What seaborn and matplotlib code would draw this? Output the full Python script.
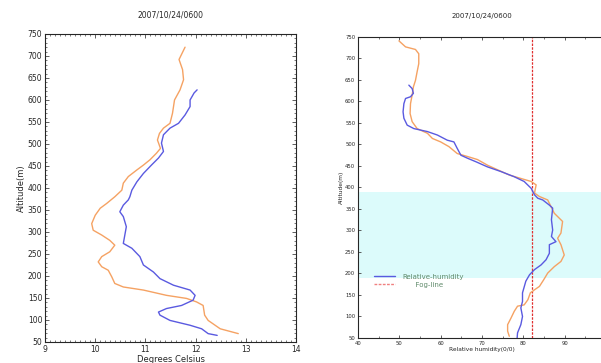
import numpy as np
import pandas as pd
import matplotlib
matplotlib.use("Agg")
import matplotlib.pyplot as plt
from matplotlib.ticker import MultipleLocator
from matplotlib.lines import Line2D
import seaborn as sns

# Perfil de temperatura (panel izquierdo)
temp_naranja = [11.79, 11.67, 11.74, 11.76, 11.69, 11.58, 11.54, 11.49, 11.36, 11.28, 11.24, 11.30,
                11.22, 11.09, 10.96, 10.83, 10.66, 10.56, 10.53, 10.39, 10.23, 10.10, 10.00, 9.93,
                9.96, 10.13, 10.29, 10.39, 10.29, 10.13, 10.06, 10.13, 10.26, 10.33, 10.39, 10.56,
                10.96, 11.42, 11.82, 12.02, 12.15, 12.18, 12.25, 12.49, 12.85]
alt_temp_naranja = [720, 692, 669, 646, 623, 600, 570, 547, 536, 524, 509, 490,
                    479, 464, 452, 441, 426, 411, 395, 380, 365, 354, 338, 319,
                    304, 293, 281, 270, 255, 244, 232, 221, 213, 198, 183, 175,
                    168, 156, 149, 141, 133, 111, 99, 80, 69]
temp_azul = [12.03, 11.97, 11.89, 11.89, 11.79, 11.66, 11.49, 11.36, 11.32, 11.36, 11.26, 11.12,
             10.96, 10.83, 10.73, 10.69, 10.66, 10.56, 10.49, 10.56, 10.62, 10.59, 10.56, 10.73,
             10.89, 10.96, 11.16, 11.29, 11.56, 11.89, 11.99, 11.95, 11.72, 11.42, 11.26, 11.29,
             11.49, 11.89, 12.12, 12.25, 12.43]
alt_temp_azul = [623, 616, 600, 585, 566, 547, 536, 521, 502, 483, 468, 452,
                 433, 414, 395, 380, 373, 361, 346, 335, 312, 293, 274, 263,
                 244, 225, 209, 194, 179, 168, 156, 145, 133, 126, 118, 111,
                 99, 88, 80, 69, 65]

# Perfil de humedad relativa (panel derecho)
hr_naranja = [49.9, 51.5, 53.9, 54.7, 54.7, 54.3, 53.9, 53.4, 53.1, 52.7, 52.6, 53.1,
              54.3, 56.8, 58.0, 60.0, 62.0, 64.0, 66.5, 68.9, 71.3, 73.8, 76.6, 79.4,
              81.9, 83.1, 82.7, 83.9, 85.9, 87.5, 89.5, 89.1, 88.3, 89.1, 89.9, 89.1,
              87.5, 85.9, 84.9, 83.9, 82.7, 81.7, 81.1, 80.2, 78.6, 77.8, 77.0, 76.2,
              76.2, 76.6]
alt_hr_naranja = [741, 727, 721, 711, 688, 669, 649, 634, 615, 595, 572, 553,
                  537, 526, 514, 506, 495, 479, 472, 465, 452, 441, 429, 421,
                  414, 406, 387, 379, 371, 340, 321, 294, 282, 267, 243, 228,
                  216, 201, 185, 170, 162, 155, 139, 127, 124, 112, 96, 81,
                  66, 54]
hr_azul = [52.3, 53.1, 53.4, 52.7, 51.5, 51.1, 50.9, 51.1, 51.9, 53.5, 56.8, 59.2,
           61.6, 63.2, 64.0, 64.9, 66.5, 68.5, 71.3, 74.6, 77.8, 80.2, 81.9, 82.7,
           83.5, 84.7, 86.3, 87.1, 86.8, 87.1, 86.8, 87.9, 86.3, 86.3, 85.5, 84.3,
           82.7, 81.5, 80.6, 79.8, 79.8, 79.4, 79.8, 79.4, 78.6, 78.5]
alt_hr_azul = [638, 630, 619, 611, 607, 595, 576, 561, 545, 537, 530, 522,
               510, 506, 491, 475, 468, 460, 448, 437, 425, 414, 398, 383,
               375, 371, 359, 352, 325, 301, 286, 274, 267, 247, 232, 220,
               209, 197, 182, 155, 135, 120, 100, 81, 62, 50]

linea_niebla = 82
banda_niebla = (190, 390)
titulo = "2007/10/24/0600"

azul = "#5a5ae0"
naranja = "#f5a263"

sns.set_style("ticks")
plt.rcParams['font.family'] = ['DejaVu Sans']

fig = plt.figure(figsize=(6.01, 3.63), dpi=100)
ax1 = fig.add_axes([0.0749, 0.0579, 0.4176, 0.8485])
ax2 = fig.add_axes([0.5957, 0.0689, 0.4126, 0.8292])

#########################
#   Temperatura
#########################
sns.lineplot(x=temp_naranja, y=alt_temp_naranja, sort=False, estimator=None,
             color=naranja, lw=1.0, ax=ax1)
sns.lineplot(x=temp_azul, y=alt_temp_azul, sort=False, estimator=None,
             color=azul, lw=1.0, ax=ax1)
ax1.set_xlim(9, 14)
ax1.set_ylim(50, 750)
ax1.xaxis.set_major_locator(MultipleLocator(1))
ax1.xaxis.set_minor_locator(MultipleLocator(0.1))
ax1.yaxis.set_major_locator(MultipleLocator(50))
ax1.yaxis.set_minor_locator(MultipleLocator(10))
ax1.tick_params(which="both", direction="in", top=True, right=True, labelsize=5.5,
                pad=2, color="#444444")
ax1.tick_params(which="major", length=3, width=0.6)
ax1.tick_params(which="minor", length=1.5, width=0.5)
ax1.set_title(titulo, fontsize=5.5, pad=12)
ax1.set_xlabel("Degrees Celsius", fontsize=6, labelpad=1)
ax1.set_ylabel("Altitude(m)", fontsize=6, labelpad=1)
for s in ax1.spines.values():
    s.set_linewidth(0.8)

#########################
#   Humedad relativa
#########################
ax2.axhspan(banda_niebla[0], banda_niebla[1], color="#dcfbfb", lw=0, zorder=0)
ax2.axvline(linea_niebla, color="#e03030", ls=(0, (2, 1)), lw=0.9, zorder=1)
sns.lineplot(x=hr_naranja, y=alt_hr_naranja, sort=False, estimator=None,
             color=naranja, lw=1.0, ax=ax2)
sns.lineplot(x=hr_azul, y=alt_hr_azul, sort=False, estimator=None,
             color=azul, lw=1.0, ax=ax2)
ax2.set_xlim(40, 100)
ax2.set_ylim(50, 750)
ax2.xaxis.set_major_locator(MultipleLocator(10))
ax2.xaxis.set_minor_locator(MultipleLocator(5))
ax2.yaxis.set_major_locator(MultipleLocator(50))
ax2.tick_params(which="both", direction="in", top=True, right=True, labelsize=3.8,
                pad=2, color="#444444")
ax2.tick_params(which="major", length=2.5, width=0.6)
ax2.tick_params(which="minor", length=1.5, width=0.5)
ax2.set_title(titulo, fontsize=5, pad=14)
ax2.set_xlabel("Relative humidity(0/0)", fontsize=4.2, labelpad=1)
ax2.set_ylabel("Altitude(m)", fontsize=4.2, labelpad=1)
for s in ax2.spines.values():
    s.set_linewidth(0.8)

manejadores = [Line2D([], [], color=azul, lw=1.0),
               Line2D([], [], color="#f08080", lw=1.0, ls=(0, (2, 1)))]
ley = ax2.legend(manejadores, ["Relative-humidity", "      Fog-line"],
                 loc="upper left", bbox_to_anchor=(0.04, 0.235), frameon=False,
                 fontsize=5, handlelength=3, labelspacing=0.3, handletextpad=1.0)
for t in ley.get_texts():
    t.set_color("#5f8a6a")

fig.savefig("out.png", dpi=100)
